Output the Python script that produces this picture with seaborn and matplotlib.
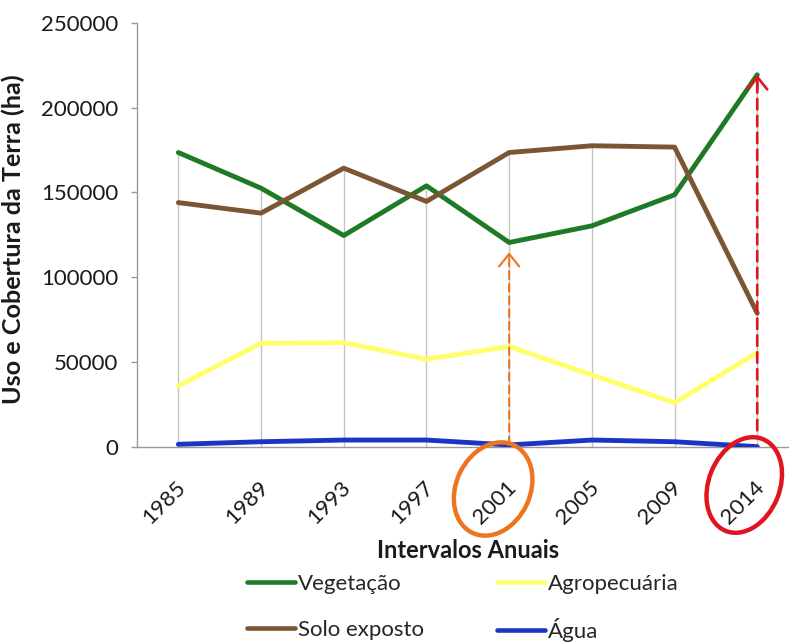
import pandas as pd
import matplotlib
matplotlib.use("Agg")
import matplotlib.pyplot as plt
import matplotlib.transforms as mtransforms
from matplotlib.patches import Ellipse
from matplotlib.ticker import FuncFormatter, MultipleLocator
import seaborn as sns

# Área (ha) de cada classe de uso e cobertura por ano
anos = ["1985", "1989", "1993", "1997", "2001", "2005", "2009", "2014"]
vegetacao = [173500, 152500, 124600, 153900, 120500, 130300, 148600, 219300]
solo_exposto = [144000, 137800, 164300, 144700, 173500, 177500, 176700, 78800]
agropecuaria = [36000, 61100, 61500, 51700, 59200, 42500, 26100, 55600]
agua = [1600, 3100, 4100, 4100, 1200, 4100, 3100, 200]

classes = ["Vegetação", "Solo exposto", "Agropecuária", "Água"]
cores = ["#1e7a24", "#7c5533", "#ffff6e", "#1a35c4"]

# anos destacados
ano_minimo = "2001"
ano_final = "2014"

df = pd.DataFrame({
    "Ano": anos,
    "Vegetação": vegetacao,
    "Solo exposto": solo_exposto,
    "Agropecuária": agropecuaria,
    "Água": agua,
}).melt(id_vars="Ano", var_name="Classe", value_name="Área (ha)")

sns.set_theme(style="white")
plt.rcParams["font.family"] = ["Lato", "DejaVu Sans"]

fig = plt.figure(figsize=(7.89, 6.44), dpi=100)
ax = fig.add_axes([137 / 789, 197 / 644, 661.6 / 789, 424.3 / 644])

# linhas de projeção: do eixo até o maior valor de cada ano
maximos = df.groupby("Ano", sort=False)["Área (ha)"].max()
ax.vlines(range(len(anos)), 0, maximos.values, color="#c4c4c4", lw=1.0, zorder=1)

sns.lineplot(data=df, x="Ano", y="Área (ha)", hue="Classe", hue_order=classes,
             palette=cores, linewidth=3.5, sort=False, ax=ax, zorder=3)

ax.set_xlim(-0.5, len(anos) - 0.5)
ax.set_ylim(0, 250000)
ax.yaxis.set_major_locator(MultipleLocator(50000))
ax.yaxis.set_major_formatter(FuncFormatter(lambda v, p: f"{int(v)}"))

for lado in ["top", "right"]:
    ax.spines[lado].set_visible(False)
for lado in ["left", "bottom"]:
    ax.spines[lado].set_color("#9a9a9a")
    ax.spines[lado].set_linewidth(1.0)

ax.tick_params(axis="y", length=4.5, width=1, color="#9a9a9a", pad=9,
               labelsize=16, labelcolor="#1a1a1a", left=True)
ax.tick_params(axis="x", length=0, pad=22, labelsize=16, labelcolor="#1a1a1a")
deslocamento = mtransforms.ScaledTranslation(0.11, 0, fig.dpi_scale_trans)
for rotulo in ax.get_xticklabels():
    rotulo.set_rotation(45)
    rotulo.set_ha("right")
    rotulo.set_transform(rotulo.get_transform() + deslocamento)

ax.set_ylabel("Uso e Cobertura da Terra (ha)", fontsize=18.2, fontweight="bold",
              color="#1a1a1a")
ax.yaxis.set_label_coords(-0.169, 0.49)
ax.set_xlabel("Intervalos Anuais", fontsize=17, fontweight="bold", color="#1a1a1a")
ax.xaxis.set_label_coords(0.5, -0.218)

# legenda em duas colunas, uma entrada por posição
leg = ax.get_legend()
handles = list(leg.legend_handles)
labels = [t.get_text() for t in leg.get_texts()]
leg.remove()
posicoes = {
    "Vegetação": (247, 584),
    "Solo exposto": (247, 630),
    "Agropecuária": (497, 584),
    "Água": (497, 630),
}
for h, lab in zip(handles, labels):
    px, py = posicoes[lab]
    entrada = fig.legend([h], [lab], loc="center left",
                         bbox_to_anchor=(px / 789, 1 - py / 644),
                         frameon=False, fontsize=16, handlelength=2.15,
                         handletextpad=0.15, borderpad=0, borderaxespad=0)
    for linha in entrada.get_lines():
        linha.set_linewidth(3.3)

# setas tracejadas marcando o mínimo de 2001 e o pico de 2014
i_min = anos.index(ano_minimo)
i_fim = anos.index(ano_final)
laranja = "#ef7420"
vermelho = "#e0161f"

ax.annotate("", xy=(i_min, vegetacao[i_min]), xytext=(i_min, 0),
            arrowprops=dict(arrowstyle="-", linestyle=(0, (3.8, 2.3)), lw=1.5,
                            color=laranja, shrinkA=2, shrinkB=8), zorder=4)
ax.annotate("", xy=(i_min, vegetacao[i_min]), xytext=(0, -10),
            textcoords="offset points",
            arrowprops=dict(arrowstyle="->,head_length=0.45,head_width=0.36",
                            mutation_scale=20, lw=1.5, color=laranja,
                            shrinkA=0, shrinkB=7), zorder=4)

ax.annotate("", xy=(i_fim, vegetacao[i_fim]), xytext=(i_fim, 0),
            arrowprops=dict(arrowstyle="-", linestyle=(0, (4.0, 2.4)), lw=1.9,
                            color=vermelho, shrinkA=12, shrinkB=1), zorder=4)
ax.annotate("", xy=(i_fim, vegetacao[i_fim]), xytext=(0, -10),
            textcoords="offset points",
            arrowprops=dict(arrowstyle="->,head_length=0.45,head_width=0.36",
                            mutation_scale=20, lw=1.9, color=vermelho,
                            shrinkA=0, shrinkB=0), zorder=4)

# elipses em volta dos rótulos destacados (medidas em polegadas)
for idx, cor, (dx, dy, w, h, ang) in [
    (i_min, laranja, (-0.16, -0.42, 0.74, 0.97, -25)),
    (i_fim, vermelho, (-0.13, -0.38, 0.71, 0.99, -22)),
]:
    trans = fig.dpi_scale_trans + mtransforms.ScaledTranslation(idx, 0, ax.transData)
    ax.add_patch(Ellipse((dx, dy), w, h, angle=ang, fill=False, edgecolor=cor,
                         lw=3.2, transform=trans, clip_on=False, zorder=5))

fig.savefig("out.png", dpi=100)
